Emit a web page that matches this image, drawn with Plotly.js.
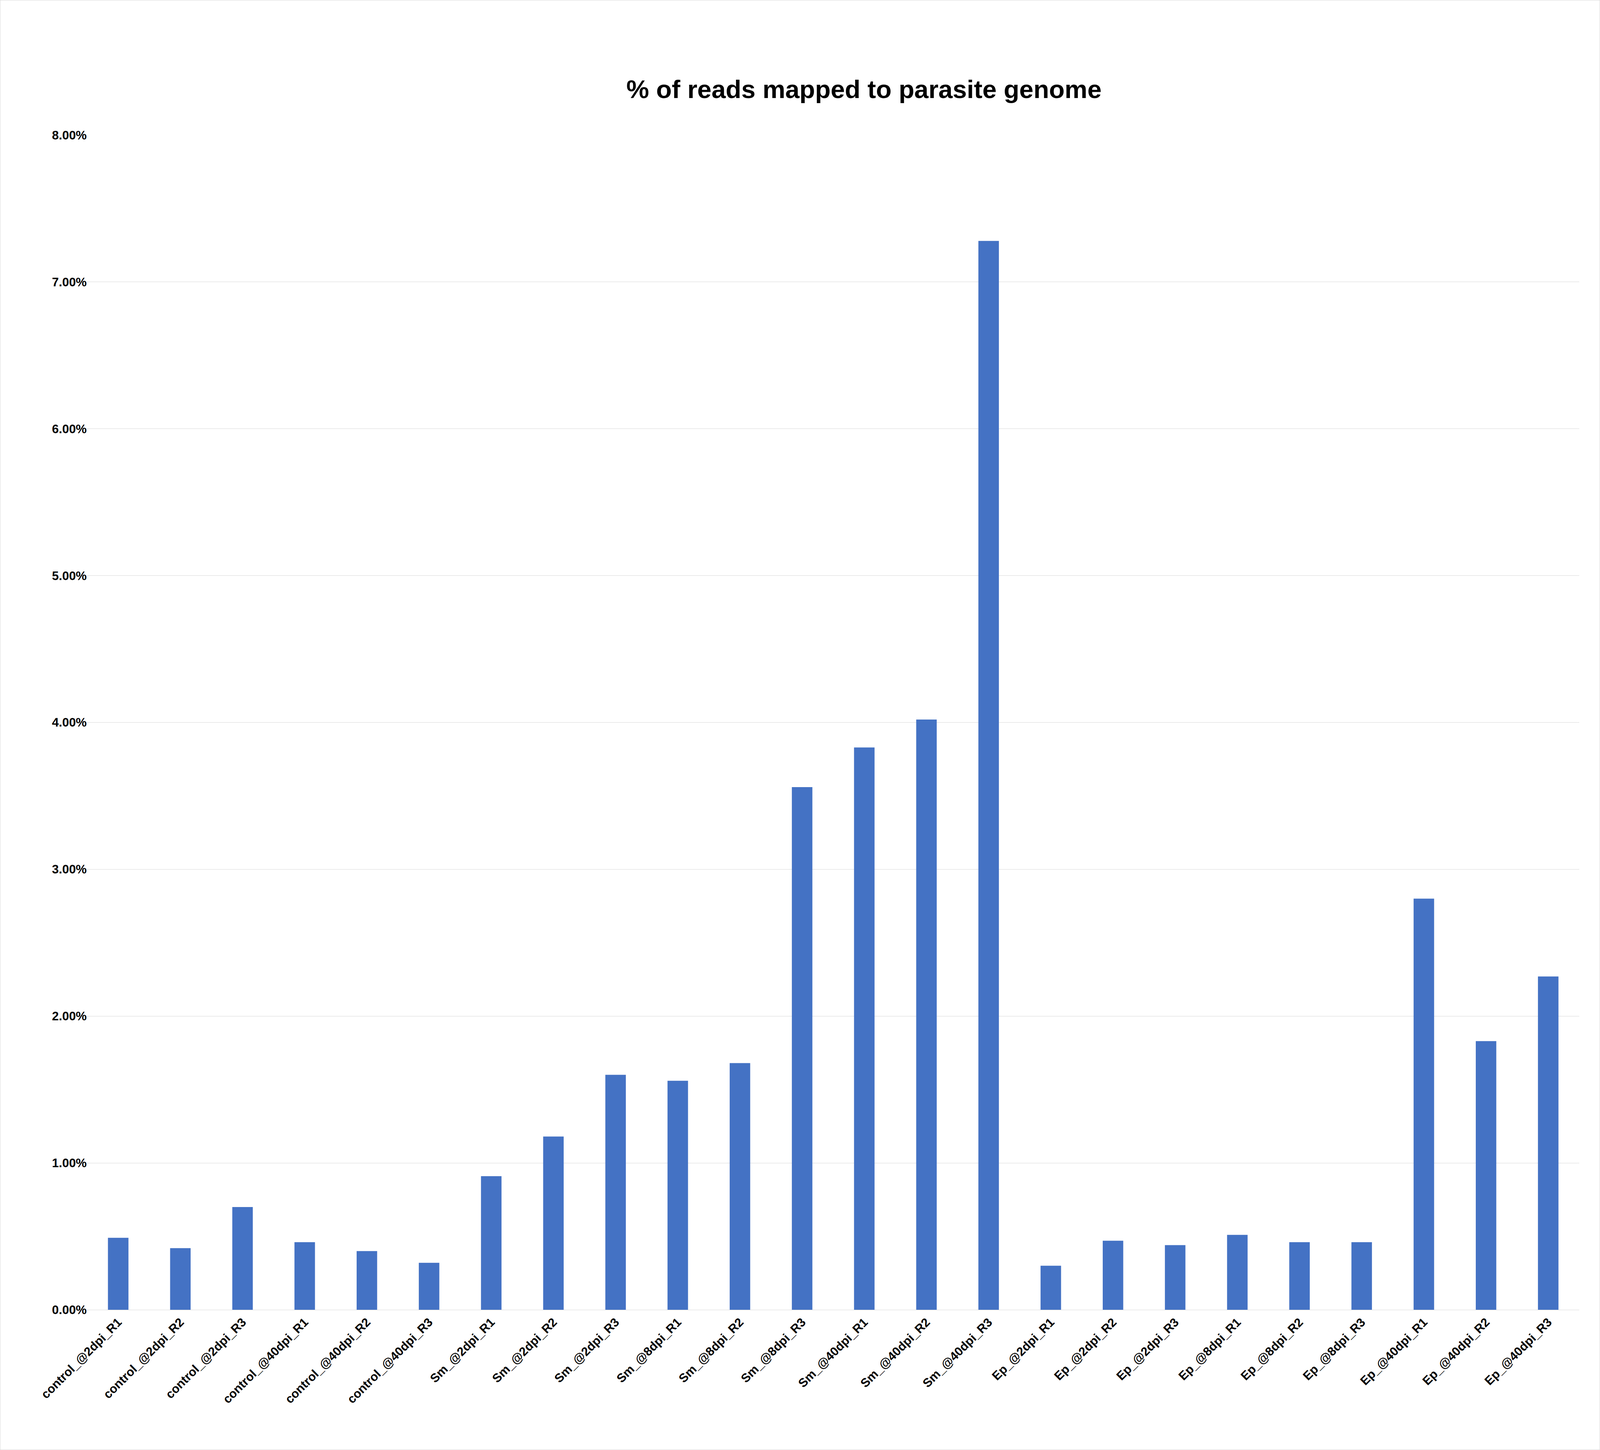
<!DOCTYPE html>
<html><head><meta charset="utf-8">
<script src="https://cdn.plot.ly/plotly-3.0.1.min.js"></script>
<style>html,body{margin:0;padding:0;background:#fff;overflow:hidden}#chart{width:100vw;height:100vh;box-sizing:border-box;border:1px solid #d9d9d9}</style>
</head><body><div id="chart"></div>
<script>
const samples = ['control_@2dpi_R1','control_@2dpi_R2','control_@2dpi_R3','control_@40dpi_R1','control_@40dpi_R2','control_@40dpi_R3',
  'Sm_@2dpi_R1','Sm_@2dpi_R2','Sm_@2dpi_R3','Sm_@8dpi_R1','Sm_@8dpi_R2','Sm_@8dpi_R3','Sm_@40dpi_R1','Sm_@40dpi_R2','Sm_@40dpi_R3',
  'Ep_@2dpi_R1','Ep_@2dpi_R2','Ep_@2dpi_R3','Ep_@8dpi_R1','Ep_@8dpi_R2','Ep_@8dpi_R3','Ep_@40dpi_R1','Ep_@40dpi_R2','Ep_@40dpi_R3'];
const mapped = [0.0049,0.0042,0.0070,0.0046,0.0040,0.0032,0.0091,0.0118,0.0160,0.0156,0.0168,0.0356,0.0383,0.0402,0.0728,
  0.0030,0.0047,0.0044,0.0051,0.0046,0.0046,0.0280,0.0183,0.0227];
const yTicks = [0,0.01,0.02,0.03,0.04,0.05,0.06,0.07,0.08];

const W = window.innerWidth, H = window.innerHeight;
const s = W / 1567; // reference layout measured at 1567 px wide

const trace = {type:'bar', x:samples, y:mapped, marker:{color:'#4472c4'}};
const layout = {
  width:W - 2, height:H - 2,
  font:{family:'Liberation Sans, Arial, sans-serif', color:'#000'},
  title:{text:'<b>% of reads mapped to parasite genome</b>', font:{size:25*s}, x:0.54, y:1 - 65/1060, xanchor:'center', yanchor:'middle'},
  margin:{l:85*s, r:20*s, t:132*s, b:137*s},
  bargap:0.67,
  plot_bgcolor:'#fff', paper_bgcolor:'#fff',
  xaxis:{tickangle:-45, tickfont:{size:12*s}, tickvals:samples, ticktext:samples.map(t=>'<b>'+t+'</b>'),
         showline:true, linecolor:'#d9d9d9', linewidth:1, ticks:''},
  yaxis:{range:[0,0.08], tickvals:yTicks, ticktext:yTicks.map(v=>'<b>'+(v*100).toFixed(2)+'%</b>'),
         tickfont:{size:12*s}, gridcolor:'#d9d9d9', gridwidth:1, zeroline:false, ticklabelstandoff:12*s}
};
Plotly.newPlot('chart',[trace],layout,{displayModeBar:false});
</script></body></html>
